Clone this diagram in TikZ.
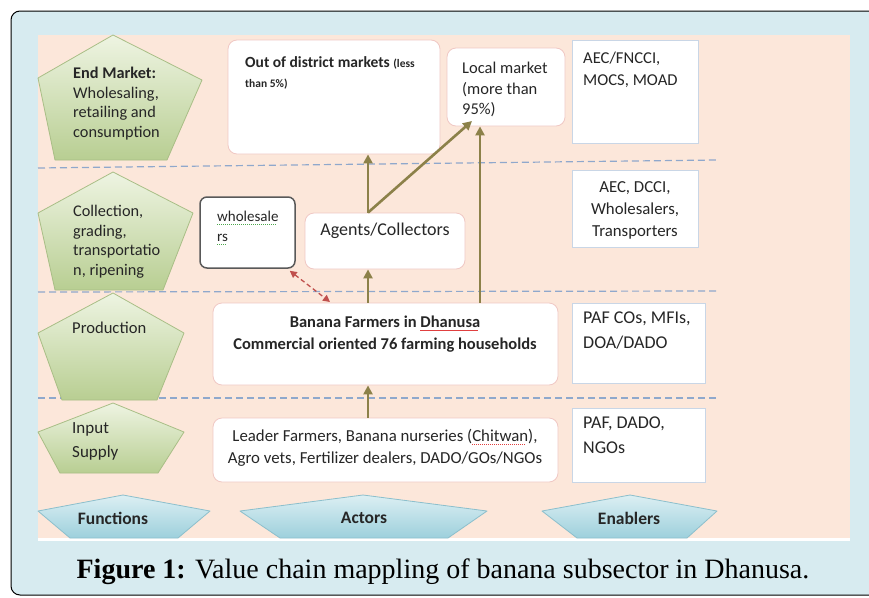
\documentclass[tikz,border=0pt]{standalone}
\usepackage{fontspec}
\setmainfont{Liberation Serif}
\newfontfamily\calfont{Carlito}
\usetikzlibrary{arrows.meta,shadings}
\definecolor{panel}{HTML}{D7EBF0}
\definecolor{peach}{HTML}{FCE7DA}
\definecolor{dashblue}{HTML}{8FA8CC}
\definecolor{olive}{HTML}{8C8149}
\definecolor{pinkb}{HTML}{F0C8C4}
\definecolor{enb}{HTML}{C9D6E6}
\definecolor{greentop}{HTML}{EEF4E2}
\definecolor{greenbot}{HTML}{B8CE92}
\definecolor{greenedge}{HTML}{A9BE86}
\definecolor{bluetop}{HTML}{DCEFF3}
\definecolor{bluebot}{HTML}{9DD0DC}
\definecolor{blueedge}{HTML}{8CBFCC}
\definecolor{redd}{HTML}{C0504D}
\definecolor{spellg}{HTML}{4CA64C}
\definecolor{spellr}{HTML}{E04040}
\newsavebox\spellbox
\newcommand\spellmark[2]{\sbox\spellbox{#2}\rlap{\textcolor{#1}{\leaders\hbox{\rule[-3.5pt]{1.2pt}{0.9pt}\kern0.8pt}\hskip\wd\spellbox}}\usebox\spellbox}
\tikzset{
  pent/.style={draw=greenedge, line width=0.8pt, top color=greentop, bottom color=greenbot, line join=round},
  banner/.style={draw=blueedge, line width=0.8pt, top color=bluetop, bottom color=bluebot, line join=round},
  sep/.style={dashblue, line width=1.2pt, dash pattern=on 7pt off 4pt},
  actor/.style={draw=pinkb, fill=white, line width=0.8pt, rounded corners=9pt},
  enabler/.style={draw=enb, fill=white, line width=1pt},
  flow/.style={olive, line width=2.6pt, -{Triangle[length=9pt,width=9pt]}},
  ftext/.style={font=\calfont\fontsize{16.3}{19.6}\selectfont, align=left, inner sep=0pt, anchor=north west, text=black!85},
  btext/.style={font=\calfont\bfseries\fontsize{17.5}{20}\selectfont, inner sep=0pt, text=black!85},
  atext/.style={font=\calfont\fontsize{16.8}{22}\selectfont, inner sep=0pt, text=black!85},
}
\begin{document}
\begin{tikzpicture}[x=1pt,y=-1pt]
\useasboundingbox (0,0) rectangle (869,597);
\clip (0,0) rectangle (869,597);
\draw[fill=panel, line width=1pt, rounded corners=9pt] (11,11) rectangle (885,595);
\fill[white] (38,35) rectangle (850,541);
\fill[peach] (38,35) rectangle (850,538);
% separators
\draw[sep] (38,168) -- (717,160);
\draw[sep] (38,292) -- (717,291);
\draw[sep] (38,398) -- (717,398);
% pentagons
\shade[pent] (113,35) -- (202,80) -- (167,160) -- (55,160) -- (38,78) -- cycle;
\shade[pent] (113,172) -- (193,213) -- (163,290) -- (55,290) -- (38,213) -- cycle;
\shade[pent] (113,293) -- (184,333) -- (157,400) -- (62,400) -- (38,333) -- cycle;
\shade[pent] (113,403) -- (184,432) -- (158,473) -- (60,473) -- (38,432) -- cycle;
\node[ftext] (fend) at (73,67) {\textbf{End Market:}\\Wholesaling,\\retailing and\\consumption};
\node[ftext] (fcol) at (73,205) {Collection,\\grading,\\transportatio\\n, ripening};
\node[ftext, font=\calfont\fontsize{16.6}{20}\selectfont] (fprod) at (72,322) {Production};
\node[ftext, font=\calfont\fontsize{17}{24.5}\selectfont] (finp) at (72,422) {Input\\Supply};
% bottom banners
\shade[banner] (123,495) -- (210,511) -- (178,538) -- (70,538) -- (38,511) -- cycle;
\shade[banner] (363,495) -- (487,511) -- (448,538) -- (280,538) -- (240,511) -- cycle;
\shade[banner] (630,495) -- (717,511) -- (687,538) -- (577,538) -- (542,511) -- cycle;
\node[btext] (lfun) at (113,518) {Functions};
\node[btext] (lact) at (364,518) {Actors};
\node[btext] (lena) at (629,518) {Enablers};
% actors
\node[actor, minimum width=212pt, minimum height=114pt] (odm) at (334,97) {};
\node[ftext, font=\calfont\fontsize{15.5}{20}\selectfont] (odmt) at (245,56) {\textbf{Out of district markets} {\fontsize{11.5}{14}\selectfont\textbf{(less}}\\{\fontsize{11.5}{14}\selectfont\textbf{than 5\%)}}};
\node[actor, minimum width=118pt, minimum height=78pt] (lm) at (506,87) {};
\node[ftext, font=\calfont\fontsize{16.5}{20.5}\selectfont] (lmt) at (462,62) {Local market\\(more than\\95\%)};
\node[actor, minimum width=160pt, minimum height=56pt] (ag) at (385,241) {};
\node[atext, font=\calfont\fontsize{18}{20}\selectfont] (agt) at (385,231) {Agents/Collectors};
\node[draw=black!65, fill=white, line width=1.5pt, rounded corners=7pt, minimum width=95pt, minimum height=71pt] (wh) at (247.5,232.5) {};
\node[ftext, font=\calfont\fontsize{15}{20}\selectfont] (wht) at (217,211) {\spellmark{spellg}{wholesale}\\\spellmark{spellg}{rs}};
\node[actor, minimum width=345pt, minimum height=82pt] (bf) at (385.5,344) {};
\node[atext, font=\calfont\bfseries\fontsize{16.5}{22}\selectfont, align=center] (bft) at (385,334) {Banana Farmers in \spellmark{spellr}{Dhanusa}\\Commercial oriented 76 farming households};
\node[actor, minimum width=345pt, minimum height=64pt] (lf) at (385.5,450) {};
\node[atext, align=center] (lft) at (385,448) {Leader Farmers, Banana nurseries (\spellmark{spellr}{Chitwan}),\\Agro vets, Fertilizer dealers, DADO/GOs/NGOs};
% enablers
\node[enabler, minimum width=126pt, minimum height=103pt] (e1) at (635,91.5) {};
\node[ftext, font=\calfont\fontsize{16.6}{22}\selectfont] (e1t) at (583,52) {AEC/FNCCI,\\MOCS, MOAD};
\node[enabler, minimum width=126pt, minimum height=77pt] (e2) at (635,208.5) {};
\node[atext, align=center] (e2t) at (635,210) {AEC, DCCI,\\Wholesalers,\\Transporters};
\node[enabler, minimum width=133pt, minimum height=80pt] (e3) at (638.5,343) {};
\node[ftext, font=\calfont\fontsize{18}{25}\selectfont] (e3t) at (583,312) {PAF COs, MFIs,\\DOA/DADO};
\node[enabler, minimum width=133pt, minimum height=74pt] (e4) at (638.5,445) {};
\node[ftext, font=\calfont\fontsize{18}{25}\selectfont] (e4t) at (583,417) {PAF, DADO,\\NGOs};
% arrows
\draw[flow] (lf.north -| 368,0) -- (bf.south -| 368,0);
\draw[flow] (bf.north -| 368,0) -- (ag.south -| 368,0);
\draw[flow] (ag.north -| 368,0) -- (odm.south -| 368,0);
\draw[flow] (ag.north -| 368,0) -- (472,121);
\draw[flow] (bf.north -| 480,0) -- (lm.south -| 480,0);
\draw[redd, line width=1.3pt, dash pattern=on 4.5pt off 3pt, {Triangle[length=7pt,width=7pt]}-{Triangle[length=7pt,width=7pt]}] (wh.south east) ++(-6,2) -- (330,302);
% caption
\node[font=\fontsize{28}{32}\selectfont, inner sep=0pt] (cap) at (443,572) {\textbf{Figure 1:} Value chain mappling of banana subsector in Dhanusa.};
\end{tikzpicture}
\end{document}
